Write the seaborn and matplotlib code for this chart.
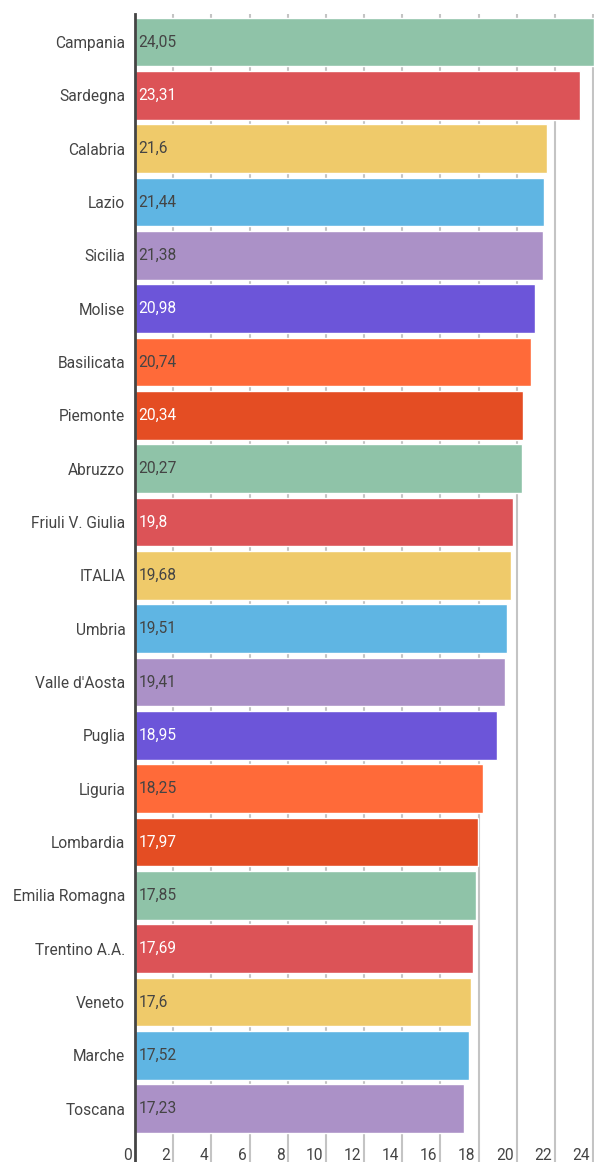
import numpy as np
import pandas as pd
import seaborn as sns
import matplotlib.pyplot as plt

# %%
regioni = ["Campania", "Sardegna", "Calabria", "Lazio", "Sicilia", "Molise",
           "Basilicata", "Piemonte", "Abruzzo", "Friuli V. Giulia", "ITALIA",
           "Umbria", "Valle d'Aosta", "Puglia", "Liguria", "Lombardia",
           "Emilia Romagna", "Trentino A.A.", "Veneto", "Marche", "Toscana"]
valori = [24.05, 23.31, 21.6, 21.44, 21.38, 20.98, 20.74, 20.34, 20.27, 19.8,
          19.68, 19.51, 19.41, 18.95, 18.25, 17.97, 17.85, 17.69, 17.6, 17.52,
          17.23]
xticks = [0, 2, 4, 6, 8, 10, 12, 14, 16, 18, 20, 22, 24]

base_colors = ["#8FC3A8", "#DC5357", "#EFCA6A", "#5FB5E3",
               "#AB91C7", "#6C55D9", "#FF6A39", "#E44D23"]
label_colors = ["#444444", "white", "#444444", "#444444",
                "#444444", "white", "#444444", "white"]
colors = [base_colors[i % 8] for i in range(len(regioni))]
txt_colors = [label_colors[i % 8] for i in range(len(regioni))]

df = pd.DataFrame({"regione": regioni, "valore": valori})

# %%
sns.set_style("white")
plt.rcParams['font.family'] = ['Roboto', 'DejaVu Sans']

fig = plt.figure(figsize=(5.94, 11.62), dpi=100)
ax = fig.add_axes([135 / 594, 0, 1 - 135 / 594, 1 - 14 / 1162])

for t in xticks:
    ax.axvline(t, color="#c4c4c4", lw=1.5, zorder=0)

sns.barplot(data=df, x="valore", y="regione", hue="regione", palette=colors,
            legend=False, width=0.91, saturation=1, ax=ax, zorder=2)

ax.set_xlim(0, 24.05)
ax.set_ylim(21.0, -0.525)

for i, v in enumerate(valori):
    ax.text(0.18, i, "{:g}".format(v).replace(".", ","), va="center", ha="left",
            color=txt_colors[i], fontsize=11.2, zorder=3)

for t in xticks:
    ax.text(t - 0.15, 20.87, str(t), ha="right", va="center", color="#444444",
            fontsize=11.2, zorder=3)

ax.set_xticks([])
ax.set_xlabel("")
ax.set_ylabel("")
ax.tick_params(axis="y", length=0, pad=7, labelsize=11.2, labelcolor="#444444")
for s in ["top", "right", "bottom"]:
    ax.spines[s].set_visible(False)
ax.spines["left"].set_color("#444444")
ax.spines["left"].set_linewidth(2)
ax.spines["left"].set_zorder(4)

plt.savefig("out.png", dpi=100)
